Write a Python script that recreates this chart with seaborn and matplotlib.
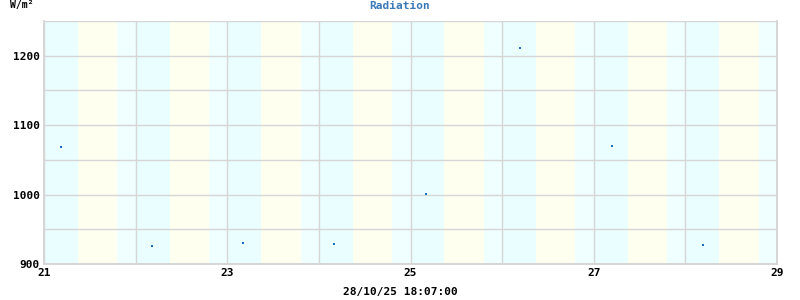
import matplotlib
matplotlib.use("Agg")
import matplotlib.pyplot as plt
import seaborn as sns
import pandas as pd
from matplotlib.ticker import MultipleLocator

# Data (day of month, fractional) and radiation values W/m²
days = [21.185, 22.18, 23.17, 24.165, 25.17, 26.20, 27.20, 28.19]
radiation = [1068, 926, 930, 929, 1001, 1211, 1070, 928]
band_days = [21, 22, 23, 24, 25, 26, 27, 28]
sunrise = 0.37
sunset = 0.80
x_ticks = [21, 23, 25, 27, 29]
y_ticks = [900, 1000, 1100, 1200]
title = "Radiation"
unit = "W/m²"
stamp = "28/10/25 18:07:00"

df = pd.DataFrame({"day": days, "rad": radiation})

sns.set_theme(style="white")
plt.rcParams["font.family"] = ["DejaVu Sans Mono", "DejaVu Sans"]

fig = plt.figure(figsize=(8, 3), dpi=100)
ax = fig.add_axes([44 / 800, 36 / 300, 733 / 800, 243 / 300])

for d in band_days:
    ax.axvspan(d, d + sunrise, color="#eafeff", lw=0, zorder=0)
    ax.axvspan(d + sunrise, d + sunset, color="#fffff0", lw=0, zorder=0)
    ax.axvspan(d + sunset, d + 1, color="#f0ffff", lw=0, zorder=0)

sns.scatterplot(data=df, x="day", y="rad", ax=ax, s=2, color="#1f6fc0",
                edgecolor="none", marker="s", zorder=3)

ax.set_xlim(21, 29)
ax.set_ylim(900, 1250)
ax.xaxis.set_major_locator(MultipleLocator(1))
ax.yaxis.set_major_locator(MultipleLocator(50))
ax.grid(True, color="#d6d6d6", lw=1)
ax.set_axisbelow(False)
for l in ax.get_xgridlines() + ax.get_ygridlines():
    l.set_zorder(1)

ax.set_xticks(range(21, 30))
ax.set_xticklabels([str(t) if t in x_ticks else "" for t in range(21, 30)])
yt = list(range(900, 1251, 50))
ax.set_yticks(yt)
ax.set_yticklabels([str(t) if t in y_ticks else "" for t in yt])
ax.tick_params(axis="both", length=0, labelsize=8, pad=3)
for lab in ax.get_xticklabels() + ax.get_yticklabels():
    lab.set_fontweight("bold")
    lab.set_color("black")

for side in ["top"]:
    ax.spines[side].set_visible(False)
for side in ["left", "bottom", "right"]:
    ax.spines[side].set_color("#d0d0d0")
    ax.spines[side].set_linewidth(1.2)

ax.set_xlabel("")
ax.set_ylabel("")

fig.text(400 / 800, 1 - 6 / 300, title, ha="center", va="center",
         color="#3a7ab8", fontsize=8, fontweight="bold")
fig.text(10 / 800, 1 - 5 / 300, unit, ha="left", va="center",
         color="black", fontsize=7, fontweight="bold")
fig.text(400 / 800, 1 - 292 / 300, stamp, ha="center", va="center",
         color="black", fontsize=8, fontweight="bold")

fig.savefig("out.png", dpi=100)
